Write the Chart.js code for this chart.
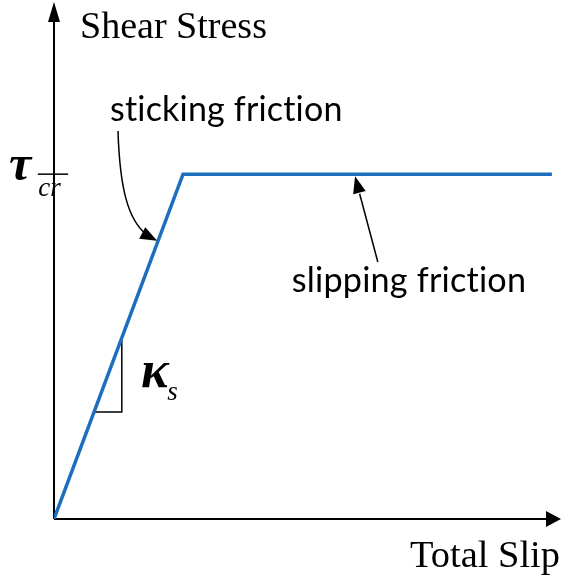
<!DOCTYPE html>
<html>
<head>
<meta charset="utf-8">
<script src="https://cdn.jsdelivr.net/npm/chart.js@4/dist/chart.umd.min.js"></script>
<style>
  html, body { margin: 0; padding: 0; background: #fff; }
  #wrap { width: 562px; height: 580px; }
</style>
</head>
<body>
<div id="wrap"><canvas id="frictionChart" width="562" height="580"></canvas></div>
<script>
// friction law: shear stress vs total slip (schematic, normalised 0..100)
const slip = [0, 25.5, 98.4];
const shearStress = [0, 66.7, 66.7];
const tauCr = 66.7;

// slope triangle under the sticking branch
const triSlip = [7.9, 13.4, 13.4];
const triStress = [20.7, 20.7, 35.0];

const axisLabels = ['Shear Stress', 'Total Slip'];
const notes = ['sticking friction', 'slipping friction'];

const BLUE = '#1d6fbd';
const SERIF = '"Liberation Serif", "Times New Roman", serif';
const SANS = 'Lato, "Open Sans", "Noto Sans", sans-serif';

function toPoints(xs, ys) {
  return xs.map((x, i) => ({ x: x, y: ys[i] }));
}

// shrink/grow font so the text fills a given width
function fitFont(ctx, text, style, family, size, width) {
  ctx.font = style + ' ' + size + 'px ' + family;
  const w = ctx.measureText(text).width;
  const s = size * width / w;
  ctx.font = style + ' ' + s.toFixed(2) + 'px ' + family;
}

function arrowHead(ctx, fromX, fromY, tipX, tipY, len, half) {
  const a = Math.atan2(tipY - fromY, tipX - fromX);
  ctx.beginPath();
  ctx.moveTo(tipX, tipY);
  ctx.lineTo(tipX - len * Math.cos(a) + half * Math.sin(a), tipY - len * Math.sin(a) - half * Math.cos(a));
  ctx.lineTo(tipX - len * Math.cos(a) - half * Math.sin(a), tipY - len * Math.sin(a) + half * Math.cos(a));
  ctx.closePath();
  ctx.fill();
}

const axesPlugin = {
  id: 'arrowAxes',
  beforeDatasetsDraw(chart) {
    const { ctx, chartArea: a } = chart;
    ctx.save();
    ctx.strokeStyle = '#000';
    ctx.fillStyle = '#000';
    ctx.lineWidth = 2;
    ctx.beginPath();
    ctx.moveTo(a.left, a.bottom);
    ctx.lineTo(a.left, a.top + 14);
    ctx.moveTo(a.left, a.bottom);
    ctx.lineTo(a.right - 10, a.bottom);
    ctx.stroke();
    arrowHead(ctx, a.left, a.bottom, a.left, a.top, 20, 6);
    arrowHead(ctx, a.left, a.bottom, a.right + 1, a.bottom, 15, 8);
    ctx.restore();
  }
};

const notesPlugin = {
  id: 'notes',
  afterDatasetsDraw(chart) {
    const { ctx } = chart;
    const px = v => chart.scales.x.getPixelForValue(v);
    const py = v => chart.scales.y.getPixelForValue(v);
    ctx.save();
    ctx.fillStyle = '#000';
    ctx.strokeStyle = '#000';
    ctx.textBaseline = 'alphabetic';

    // axis titles
    ctx.textAlign = 'left';
    fitFont(ctx, axisLabels[0], '', SERIF, 34, 187);
    ctx.fillText(axisLabels[0], px(5.14), py(93.0));
    ctx.textAlign = 'right';
    fitFont(ctx, axisLabels[1], '', SERIF, 34, 150);
    ctx.fillText(axisLabels[1], px(100), py(-9.3));

    // tau_cr tick and label
    ctx.lineWidth = 1.5;
    ctx.beginPath();
    ctx.moveTo(px(-3.2), py(tauCr));
    ctx.lineTo(px(2.8), py(tauCr));
    ctx.stroke();
    ctx.textAlign = 'left';
    ctx.font = 'bold italic 50px ' + SERIF;
    ctx.fillText('\u03C4', px(-8.9), py(65.6));
    ctx.font = 'italic 27px ' + SERIF;
    ctx.fillText('cr', px(-3.1), py(62.4));

    // kappa_s slope label
    ctx.font = 'bold italic 52px ' + SERIF;
    ctx.fillText('\u03BA', px(17.2), py(25.6));
    ctx.font = 'italic 27px ' + SERIF;
    ctx.fillText('s', px(22.4), py(23.0));

    // sticking friction note with curved arrow (no ligatures)
    ctx.letterSpacing = '0.2px';
    fitFont(ctx, notes[0], '', SANS, 30, 233);
    ctx.fillText(notes[0], px(11.07), py(77.0));
    ctx.lineWidth = 1.5;
    ctx.beginPath();
    ctx.moveTo(px(12.65), py(75.05));
    ctx.bezierCurveTo(px(13.0), py(64.0), px(14.6), py(57.8), px(18.4), py(54.9));
    ctx.stroke();
    arrowHead(ctx, px(15.0), py(56.6), px(20.4), py(53.8), 17, 6.5);

    // slipping friction note with straight arrow
    fitFont(ctx, notes[1], '', SANS, 30, 235);
    ctx.fillText(notes[1], px(47.0), py(43.9));
    ctx.beginPath();
    ctx.moveTo(px(64.0), py(49.7));
    ctx.lineTo(px(60.4), py(62.9));
    ctx.stroke();
    arrowHead(ctx, px(64.0), py(49.7), px(59.5), py(66.3), 17, 6.5);

    ctx.restore();
  }
};

new Chart(document.getElementById('frictionChart').getContext('2d'), {
  type: 'line',
  data: {
    datasets: [
      {
        label: 'Shear stress',
        data: toPoints(slip, shearStress),
        borderColor: BLUE,
        borderWidth: 3.5,
        pointRadius: 0,
        tension: 0,
        order: 0
      },
      {
        label: 'slope',
        data: toPoints(triSlip, triStress),
        borderColor: '#000',
        borderWidth: 1.5,
        pointRadius: 0,
        tension: 0,
        order: 1
      }
    ]
  },
  options: {
    responsive: false,
    animation: false,
    layout: { padding: { left: 54, right: 2, top: 2, bottom: 61 } },
    plugins: {
      legend: { display: false },
      tooltip: { enabled: false }
    },
    scales: {
      x: { type: 'linear', min: 0, max: 100, display: false },
      y: { type: 'linear', min: 0, max: 100, display: false }
    }
  },
  plugins: [axesPlugin, notesPlugin]
});
</script>
</body>
</html>
